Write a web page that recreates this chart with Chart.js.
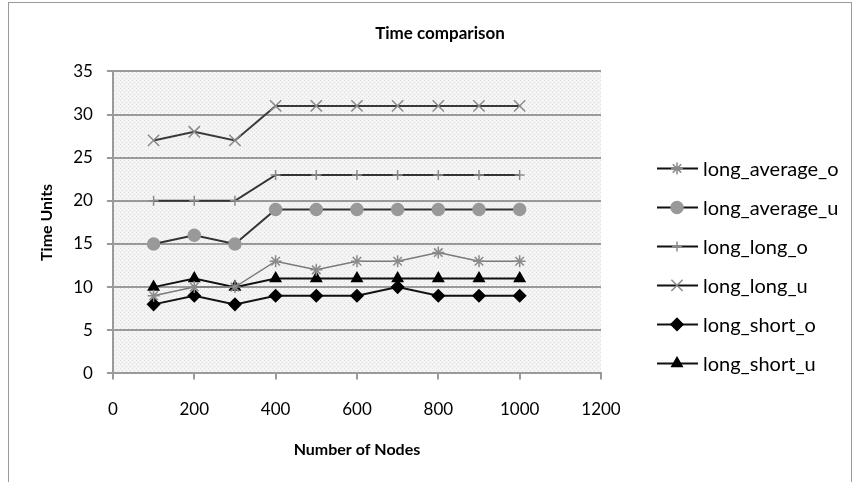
<!DOCTYPE html>
<html>
<head>
<meta charset="utf-8">
<script src="https://cdn.jsdelivr.net/npm/chart.js@4.4.1/dist/chart.umd.min.js"></script>
<style>
  html, body { margin: 0; padding: 0; background: #fff; }
  #wrap { position: relative; width: 854px; height: 482px; overflow: hidden; }
  #frame { position: absolute; left: 8px; top: 2px; width: 842px; height: 520px; border: 1px solid #9a9a9a; }
  #timeChart { position: absolute; left: 0; top: 0; }
</style>
</head>
<body>
<div id="wrap">
  <div id="frame"></div>
  <canvas id="timeChart" width="854" height="482"></canvas>
</div>
<script>
// node counts on the x axis
const nodes = [100, 200, 300, 400, 500, 600, 700, 800, 900, 1000];

// time units per series
const longAverageO = [9, 10, 10, 13, 12, 13, 13, 14, 13, 13];
const longAverageU = [15, 16, 15, 19, 19, 19, 19, 19, 19, 19];
const longLongO = [20, 20, 20, 23, 23, 23, 23, 23, 23, 23];
const longLongU = [27, 28, 27, 31, 31, 31, 31, 31, 31, 31];
const longShortO = [8, 9, 8, 9, 9, 9, 10, 9, 9, 9];
const longShortU = [10, 11, 10, 11, 11, 11, 11, 11, 11, 11];

const seriesNames = ['long_average_o', 'long_average_u', 'long_long_o', 'long_long_u', 'long_short_o', 'long_short_u'];
const yTicks = [0, 5, 10, 15, 20, 25, 30, 35];
const xTicks = [0, 200, 400, 600, 800, 1000, 1200];

const FONT = 'Lato, "Open Sans", sans-serif';
const GRID = '#9a9a9a';

// style per series: marker, colours, sizes
const styles = [
    { pointStyle: 'star', radius: 6, marker: '#8a8a8a', fill: 'transparent', line: '#7a7a7a', lineWidth: 1.5 },
    { pointStyle: 'circle', radius: 6, marker: '#999999', fill: '#999999', line: '#333333', lineWidth: 2 },
    { pointStyle: 'cross', radius: 5, marker: '#8a8a8a', fill: 'transparent', line: '#333333', lineWidth: 2 },
    { pointStyle: 'crossRot', radius: 8, marker: '#8a8a8a', fill: 'transparent', line: '#3a3a3a', lineWidth: 2 },
    { pointStyle: 'rectRot', radius: 6, marker: '#000000', fill: '#000000', line: '#111111', lineWidth: 2 },
    { pointStyle: 'triangle', radius: 6, marker: '#000000', fill: '#000000', line: '#111111', lineWidth: 2 }
];
const values = [longAverageO, longAverageU, longLongO, longLongU, longShortO, longShortU];

// stippled grey fill behind the plot
const plotBackground = {
    id: 'plotBackground',
    beforeDraw(chart) {
        const { ctx, chartArea: a } = chart;
        const p = document.createElement('canvas');
        p.width = 4;
        p.height = 4;
        const pc = p.getContext('2d');
        pc.fillStyle = '#f3f3f3';
        pc.fillRect(0, 0, 4, 4);
        pc.fillStyle = '#e2e2e2';
        pc.fillRect(0, 0, 1, 1);
        pc.fillRect(2, 2, 1, 1);
        pc.fillStyle = '#fbfbfb';
        pc.fillRect(2, 0, 1, 1);
        ctx.save();
        ctx.fillStyle = ctx.createPattern(p, 'repeat');
        ctx.fillRect(a.left, a.top, a.right - a.left, a.bottom - a.top);
        ctx.restore();
    }
};

// legend on the right: short line with the series marker, then the name
const sideLegend = {
    id: 'sideLegend',
    afterDraw(chart) {
        const { ctx, chartArea: a } = chart;
        ctx.save();
        ctx.font = '20px ' + FONT;
        ctx.textBaseline = 'middle';
        chart.data.datasets.forEach((ds, i) => {
            const st = styles[i];
            const y = a.top + 97 + i * 39;
            const x0 = a.right + 56;
            ctx.strokeStyle = '#111';
            ctx.lineWidth = 2;
            ctx.beginPath();
            ctx.moveTo(x0, y);
            ctx.lineTo(x0 + 41, y);
            ctx.stroke();
            ctx.fillStyle = st.fill;
            ctx.strokeStyle = st.marker;
            ctx.lineWidth = 1.5;
            Chart.helpers.drawPoint(ctx, { pointStyle: st.pointStyle, radius: st.radius, rotation: 0, borderWidth: 1.5 }, x0 + 20, y);
            ctx.fillStyle = '#000';
            ctx.fillText(ds.label, x0 + 46, y + 1);
        });
        ctx.restore();
    }
};

const ctx = document.getElementById('timeChart').getContext('2d');
new Chart(ctx, {
    type: 'line',
    data: {
        datasets: seriesNames.map((name, i) => ({
            label: name,
            data: nodes.map((n, j) => ({ x: n, y: values[i][j] })),
            borderColor: styles[i].line,
            borderWidth: styles[i].lineWidth,
            pointStyle: styles[i].pointStyle,
            pointRadius: styles[i].radius,
            pointHoverRadius: styles[i].radius,
            pointBorderColor: styles[i].marker,
            pointBackgroundColor: styles[i].fill,
            pointBorderWidth: 1.5,
            tension: 0,
            fill: false
        }))
    },
    options: {
        responsive: false,
        animation: false,
        layout: { padding: { top: 0, left: 26, right: 0, bottom: 19 } },
        plugins: {
            title: {
                display: true,
                text: 'Time comparison',
                color: '#000',
                font: { family: FONT, size: 17, weight: 'bold' },
                padding: { top: 23, bottom: 28 }
            },
            legend: { display: false },
            tooltip: { enabled: false }
        },
        scales: {
            x: {
                type: 'linear',
                min: 0,
                max: 1200,
                afterBuildTicks: s => { s.ticks = xTicks.map(v => ({ value: v })); },
                grid: { drawOnChartArea: false, drawTicks: true, tickLength: 6, color: GRID, lineWidth: 2 },
                border: { color: GRID, width: 2 },
                ticks: {
                    color: '#000',
                    padding: 20,
                    maxRotation: 0,
                    font: { family: FONT, size: 17 },
                    callback: v => String(v)
                },
                title: {
                    display: true,
                    text: 'Number of Nodes',
                    color: '#000',
                    font: { family: FONT, size: 16, weight: 'bold' },
                    padding: { top: 0, bottom: 4 }
                }
            },
            y: {
                min: 0,
                max: 35,
                afterBuildTicks: s => { s.ticks = yTicks.map(v => ({ value: v })); },
                grid: { color: GRID, lineWidth: 2, tickLength: 6 },
                border: { color: GRID, width: 2 },
                ticks: { color: '#000', padding: 14, font: { family: FONT, size: 17 } },
                title: {
                    display: true,
                    text: 'Time Units',
                    color: '#000',
                    font: { family: FONT, size: 16, weight: 'bold' },
                    padding: { top: 11, bottom: 3 }
                }
            },
            // empty axis that keeps room for the legend on the right
            spacer: {
                position: 'right',
                display: true,
                grid: { display: false },
                border: { display: false },
                ticks: { display: false },
                afterFit: s => { s.width = 253; }
            }
        }
    },
    plugins: [plotBackground, sideLegend]
});
</script>
</body>
</html>
